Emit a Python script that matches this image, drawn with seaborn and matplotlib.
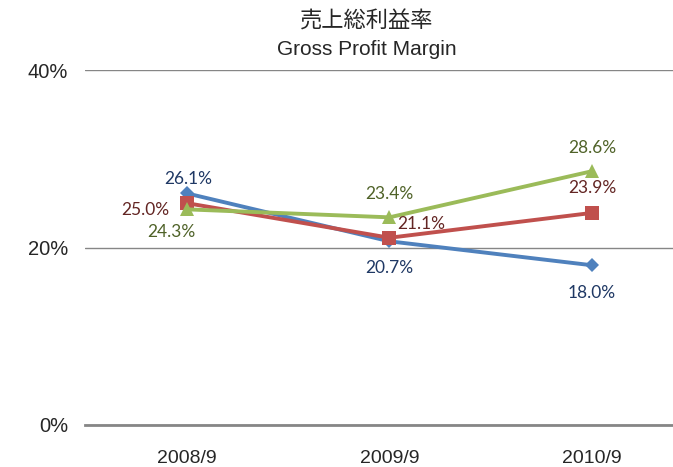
import numpy as np
import pandas as pd
import matplotlib
matplotlib.use("Agg")
import matplotlib.pyplot as plt
import seaborn as sns

# data
periods = ["2008/9", "2009/9", "2010/9"]
series_a = [26.1, 20.7, 18.0]   # blue, diamond
series_b = [25.0, 21.1, 23.9]   # red, square
series_c = [24.3, 23.4, 28.6]   # green, triangle
y_ticks = [0, 20, 40]

sns.set_style("white")
plt.rcParams['font.family'] = ['Liberation Sans', 'Noto Sans CJK JP', 'DejaVu Sans']

df = pd.DataFrame({
    "period": periods * 3,
    "value": series_a + series_b + series_c,
    "series": ["a"] * 3 + ["b"] * 3 + ["c"] * 3,
})
df["x"] = np.tile(np.arange(len(periods)), 3)

line_colors = {"a": "#4F81BD", "b": "#C0504D", "c": "#9BBB59"}
label_colors = {"a": "#1F3864", "b": "#632523", "c": "#4F6228"}
markers = {"a": "D", "b": "s", "c": "^"}
msize = {"a": 7, "b": 9.5, "c": 10}

fig = plt.figure(figsize=(6.73, 4.67), dpi=100)
ax = fig.add_axes([0.126, 0.09, 0.874, 0.76])

for s in ["a", "b", "c"]:
    sub = df[df["series"] == s]
    sns.lineplot(data=sub, x="x", y="value", ax=ax, color=line_colors[s],
                 linewidth=2.8, marker=markers[s], markersize=msize[s],
                 markeredgewidth=0, legend=False)

# data label offsets (points)
offsets = {
    "a": [(1, 10), (0, -19), (0, -20)],
    "b": [(-30, -5), (23, 10), (0, 18)],
    "c": [(-11, -16), (0, 17), (0, 17)],
}
vals = {"a": series_a, "b": series_b, "c": series_c}
for s in ["a", "b", "c"]:
    for i, v in enumerate(vals[s]):
        ax.annotate(f"{v:.1f}%", (i, v), xytext=offsets[s][i],
                    textcoords="offset points", ha="center", va="center",
                    fontsize=12.5, color=label_colors[s], family=["Lato", "DejaVu Sans"])

ax.set_xlim(-0.504, 2.40)
ax.set_ylim(0, 40)
ax.set_yticks(y_ticks)
ax.set_yticklabels([f"{t}%" for t in y_ticks], fontsize=14.5)
ax.set_xticks(range(len(periods)))
ax.set_xticklabels(periods, fontsize=14)
ax.tick_params(axis="y", length=0, pad=12)
ax.tick_params(axis="x", length=0, pad=18)
ax.yaxis.grid(True, color="#868686", linewidth=1)
ax.xaxis.grid(False)
for side in ["left", "right", "top"]:
    ax.spines[side].set_visible(False)
ax.spines["bottom"].set_color("#868686")
ax.spines["bottom"].set_linewidth(2)
ax.set_xlabel("")
ax.set_ylabel("")

fig.text(0.545, 0.955, "売上総利益率", ha="center", va="center", fontsize=16,
         family=["Noto Sans CJK JP", "DejaVu Sans"])
fig.text(0.545, 0.895, "Gross Profit Margin", ha="center", va="center", fontsize=15)

fig.savefig("out.png", dpi=100)
